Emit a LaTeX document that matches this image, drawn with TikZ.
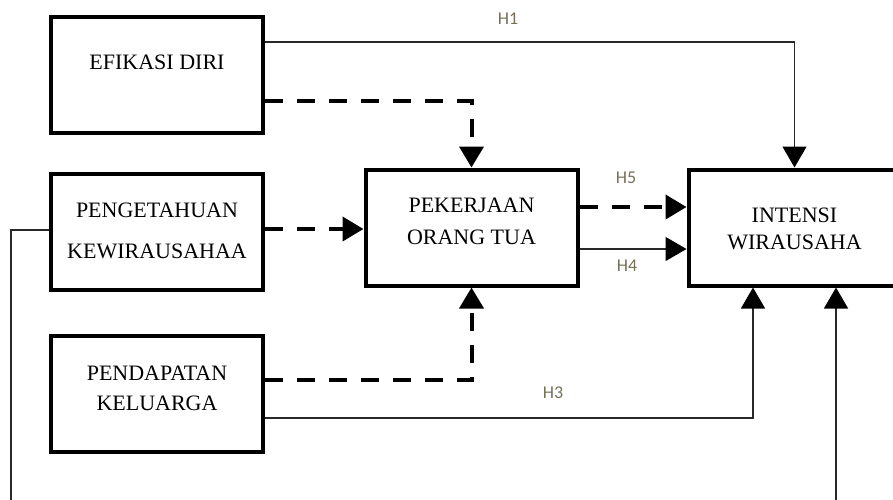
\documentclass[tikz,border=0pt]{standalone}
\usepackage{fontspec}
\setmainfont{Liberation Serif}
\newfontfamily\labfont{Carlito}
\usetikzlibrary{arrows.meta}

\definecolor{labgray}{RGB}{118,112,90}
\definecolor{linegray}{RGB}{40,40,40}

\tikzset{
  varbox/.style={draw, line width=4pt, minimum width=212pt, minimum height=116pt, inner sep=0pt},
  boxtext/.style={align=center, font=\fontsize{22}{27}\selectfont},
  conn/.style={linegray, line width=1.3pt, -{Triangle[length=21pt,width=24pt,color=black]}},
  modline/.style={line width=4pt, dash pattern=on 18pt off 14pt, -{Triangle[length=21pt,width=24pt]}},
  hlab/.style={font=\labfont\fontsize{18}{20}\selectfont, text=labgray, inner sep=0pt}
}

\begin{document}
\begin{tikzpicture}[x=1pt, y=-1pt]
			\useasboundingbox (0,0) rectangle (893,499);
			\clip (0,0) rectangle (893,499);
                        \node[varbox, label={[boxtext, yshift=13pt]center:EFIKASI DIRI}] (efi) at (157,75) {};
                        \node[varbox, label={[boxtext, yshift=1pt]center:PENGETAHUAN\\[14pt]KEWIRAUSAHAA}] (peng) at (157,232) {};
                        \node[varbox, label={[boxtext, yshift=6pt]center:PENDAPATAN\\[3pt]KELUARGA}] (pend) at (157,394) {};
                        \node[varbox, label={[boxtext, yshift=6.5pt]center:PEKERJAAN\\[4.7pt]ORANG TUA}] (pek) at (471.5,227.5) {};
                        \node[varbox, label={[boxtext, yshift=-1pt]center:INTENSI\\WIRAUSAHA}] (int) at (794.5,227.5) {};
                        \coordinate (bot) at (11,530);
			\draw[conn] ([yshift=33pt]efi.east) -| (int.north);
			\draw[modline] ([yshift=-26pt]efi.east) -| (pek.north);
			\draw[modline] ([yshift=3pt]peng.east) -- ([yshift=3pt]peng.east -| pek.west);
			\draw[modline] ([yshift=20.5pt]pek.east) -- ([yshift=20.5pt]pek.east -| int.west);
			\draw[conn] ([yshift=-21.5pt]pek.east) -- ([yshift=-21.5pt]pek.east -| int.west);
			\draw[modline] ([yshift=14pt]pend.east) -| (pek.south);
			\draw[conn] ([yshift=-24pt]pend.east) -| ([xshift=-41.5pt]int.south);
			\draw[conn] ([yshift=2pt]peng.west) -| (bot) -| ([xshift=41.5pt]int.south);
			\node[hlab] (lh1) at (508,19) {H1};
			\node[hlab] (lh5) at (626,178) {H5};
			\node[hlab] (lh4) at (627,266) {H4};
			\node[hlab] (lh3) at (553,393) {H3};
                \end{tikzpicture}
\end{document}
